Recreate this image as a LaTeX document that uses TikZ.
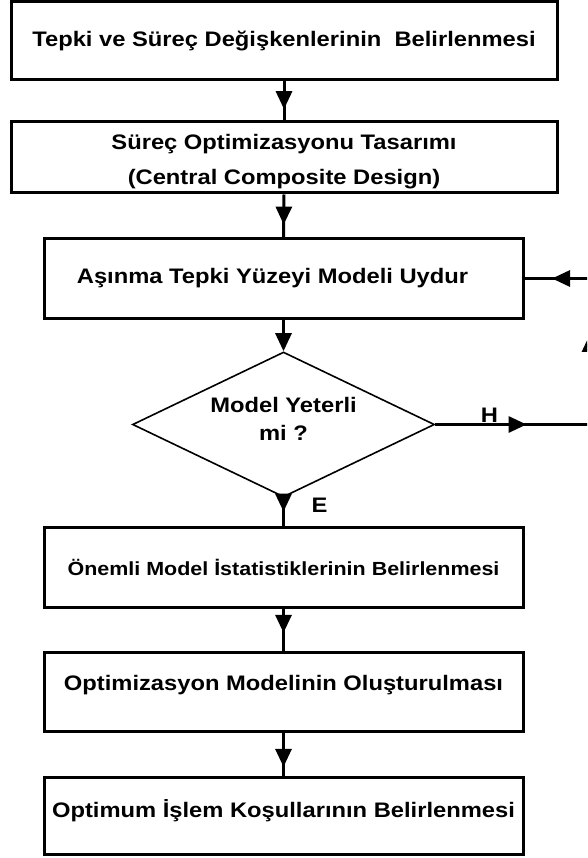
\documentclass[tikz,border=0pt]{standalone}
\usepackage{fontspec}
\setmainfont{Liberation Sans}[FakeStretch=1.13]
\usetikzlibrary{arrows.meta,shapes.geometric,decorations.markings}

\newcommand{\boxfont}{\fontsize{21}{35}\selectfont\bfseries}
\newcommand{\smallboxfont}{\fontsize{19}{32}\selectfont\bfseries}
\tikzset{
  stepbox/.style={draw, line width=3pt, inner sep=0pt, minimum width=#1, align=center, font=\boxfont},
  stepbox/.default=479pt,
  decision/.style={draw, diamond, aspect=2.08, line width=1.6pt, inner sep=0pt, minimum width=302pt, minimum height=145pt, align=center, text depth=11pt, font=\fontsize{21}{28}\selectfont\bfseries},
  flow/.style={line width=3pt},
  midarrow/.style={flow, postaction={decorate}, decoration={markings, mark=at position #1 with {\arrow{Triangle[length=18pt,width=16pt]}}}},
  answer/.style={font=\boxfont, inner sep=1pt}
}

\begin{document}
\begin{tikzpicture}[x=1pt,y=-1pt]
\useasboundingbox (0,0) rectangle (587,858);
\clip (0,0) rectangle (587,858);

\node[stepbox=546pt, minimum height=78pt] (degisken) at (284,41) {Tepki ve Süreç Değişkenlerinin\ \ Belirlenmesi};
\node[stepbox=546pt, minimum height=71pt] (tasarim) at (284,157.5) {\rule{0pt}{24pt}Süreç Optimizasyonu Tasarımı\\(Central Composite Design)};
\node[stepbox, minimum height=79pt] (uydur) at (283.5,278.5) {Aşınma Tepki Yüzeyi Modeli Uydur\hspace*{22pt}};
\node[decision] (yeterli) at (283.5,424.5) {Model Yeterli\\mi ?};
\node[stepbox, minimum height=80pt, font=\smallboxfont] (istatistik) at (283.5,567) {Önemli Model İstatistiklerinin Belirlenmesi};
\node[stepbox, minimum height=79pt, text height=15pt, text depth=17pt] (model) at (283.5,691.5) {Optimizasyon Modelinin Oluşturulması};
\node[stepbox, minimum height=77pt, text height=15pt, text depth=11pt] (kosul) at (283.5,815.5) {Optimum İşlem Koşullarının Belirlenmesi};

% ana akis
\draw[midarrow=0.71] (degisken.south) -- (tasarim.north);
\draw[midarrow=0.70] (tasarim.south) -- (uydur.north);
\draw[flow, -{Triangle[length=18pt,width=16pt]}] (uydur.south) -- (yeterli.north);
\draw[midarrow=0.5] (yeterli.south) -- node[answer, pos=0.27, xshift=36pt] {E} (istatistik.north);
\draw[midarrow=0.58] (istatistik.south) -- (model.north);
\draw[midarrow=0.8] (model.south) -- (kosul.north);

% geri donus
\coordinate (donusalt) at (590,424.5);
\coordinate (donusust) at (590,278.5);
\draw[midarrow=0.59] (yeterli.east) -- node[answer, above, pos=0.35] {H} (donusalt);
\draw[midarrow=0.62] (donusalt) -- (donusust);
\draw[midarrow=0.58] (donusust) -- (uydur.east);
\end{tikzpicture}
\end{document}
